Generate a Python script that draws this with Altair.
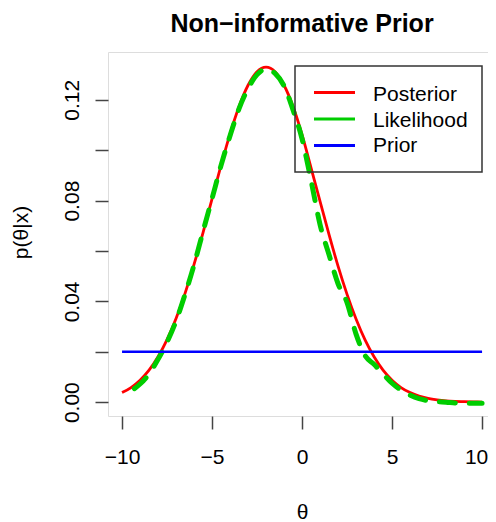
import altair as alt
import pandas as pd

# ---- data ----
theta = [-10.0, -9.5, -9.0, -8.5, -8.0, -7.5, -7.0, -6.5, -6.0, -5.5,
         -5.0, -4.5, -4.0, -3.5, -3.0, -2.5, -2.0, -1.5, -1.0, -0.5,
         0.0, 0.5, 1.0, 1.5, 2.0, 2.5, 3.0, 3.5, 4.0, 4.5,
         5.0, 5.5, 6.0, 6.5, 7.0, 7.5, 8.0, 8.5, 9.0, 9.5, 10.0]

posterior = [0.0038, 0.0058, 0.0087, 0.0127, 0.0180, 0.0248, 0.0332, 0.0432, 0.0547, 0.0673,
             0.0807, 0.0940, 0.1065, 0.1174, 0.1258, 0.1312, 0.1330, 0.1312, 0.1258, 0.1174,
             0.1062, 0.0930, 0.0797, 0.0665, 0.0540, 0.0428, 0.0330, 0.0247, 0.0180, 0.0127,
             0.0087, 0.0058, 0.0038, 0.0024, 0.0015, 0.0009, 0.0005, 0.0003, 0.0002, 0.0001, 0.0000]

likelihood = [0.0028, 0.0045, 0.0072, 0.0112, 0.0170, 0.0238, 0.0322, 0.0428, 0.0545, 0.0678,
              0.0808, 0.0940, 0.1058, 0.1165, 0.1245, 0.1300, 0.1322, 0.1305, 0.1255, 0.1160,
              0.1045, 0.0880, 0.0705, 0.0585, 0.0470, 0.0395, 0.0270, 0.0185, 0.0150, 0.0112,
              0.0075, 0.0048, 0.0028, 0.0014, 0.0006, 0.0002, 0.0000, -0.0003, -0.0004, -0.0004, -0.0004]

prior_theta = [-10.0, 10.0]
prior = [0.02, 0.02]

series_names = ["Posterior", "Likelihood", "Prior"]
series_colors = ["#FF0000", "#00CD00", "#0000FF"]

y_ticks = [0.00, 0.02, 0.04, 0.06, 0.08, 0.10, 0.12]
x_ticks = [-10, -5, 0, 5, 10]

FONT = "Liberation Sans"

post_df = pd.DataFrame({"theta": theta, "p": posterior})
lik_df = pd.DataFrame({"theta": theta, "p": likelihood})
prior_df = pd.DataFrame({"theta": prior_theta, "p": prior})

xscale = alt.Scale(domain=[-10.78, 10.33], nice=False, zero=False)
yscale = alt.Scale(domain=[-0.0055, 0.139], nice=False, zero=False)

xaxis = alt.Axis(values=x_ticks, title="θ", grid=False, domain=False,
                 tickSize=13, tickColor="#444444", tickWidth=1.5,
                 labelFont=FONT, labelFontSize=21, labelColor="black",
                 labelBaseline="alphabetic", labelPadding=34, labelFlush=False,
                 labelOffset={"condition": {"test": "datum.value == 10", "value": -6},
                              "value": 0},
                 titleFont=FONT, titleFontSize=21, titleFontWeight="normal",
                 titleColor="black", titleBaseline="alphabetic", titleY=102,
                 titleX=194)
yaxis = alt.Axis(values=y_ticks, title="p(θ|x)", grid=False, domain=False,
                 tickSize=13, tickColor="#444444", tickWidth=1.5,
                 labelFont=FONT, labelFontSize=21, labelColor="black",
                 labelAngle=270, labelAlign="center", labelBaseline="alphabetic",
                 labelPadding=17, labelFlush=False,
                 labelExpr="round(datum.value*100) % 4 == 0 ? format(datum.value, '.2f') : ''",
                 titleFont=FONT, titleFontSize=21, titleFontWeight="normal",
                 titleColor="black", titleAngle=270, titleAlign="center",
                 titleBaseline="alphabetic", titleX=-81, titleY=180)

post = alt.Chart(post_df).mark_line(color=series_colors[0], strokeWidth=2.8,
                                    interpolate="monotone").encode(
    x=alt.X("theta:Q", scale=xscale, axis=xaxis),
    y=alt.Y("p:Q", scale=yscale, axis=yaxis),
)
lik = alt.Chart(lik_df).mark_line(color=series_colors[1], strokeWidth=5,
                                  strokeDash=[16, 14], strokeDashOffset=16,
                                  strokeCap="round", interpolate="monotone").encode(
    x=alt.X("theta:Q", scale=xscale),
    y=alt.Y("p:Q", scale=yscale),
)
pri = alt.Chart(prior_df).mark_line(color=series_colors[2], strokeWidth=2.6).encode(
    x=alt.X("theta:Q", scale=xscale),
    y=alt.Y("p:Q", scale=yscale),
)

# legend (manual, R style box)
leg_box = alt.Chart(pd.DataFrame({"a": [0]})).mark_rect(
    fill=None, stroke="#333333", strokeWidth=1.5).encode(
    x=alt.value(187), x2=alt.value(374), y=alt.value(14), y2=alt.value(120))

legend_line_y = [40.5, 67, 93.5]
legend_text_y = [48.7, 74.7, 99.7]
legend_layers = []
for name, col, ly, ty in zip(series_names, series_colors, legend_line_y, legend_text_y):
    legend_layers.append(
        alt.Chart(pd.DataFrame({"a": [0]})).mark_rule(color=col, strokeWidth=2.8).encode(
            x=alt.value(206), x2=alt.value(247), y=alt.value(ly)))
    legend_layers.append(
        alt.Chart(pd.DataFrame({"a": [0]})).mark_text(
            align="left", baseline="alphabetic", font=FONT, fontSize=21, color="black").encode(
            x=alt.value(265), y=alt.value(ty), text=alt.value(name)))

chart = alt.layer(post, lik, pri, leg_box, *legend_layers).properties(
    width=380, height=364,
    title=alt.TitleParams("Non−informative Prior", font=FONT, fontSize=25,
                          fontWeight="bold", color="black", anchor="middle",
                          baseline="alphabetic", offset=-5, dx=4),
    padding={"left": 100, "top": 44, "right": 0, "bottom": 106},
    autosize=alt.AutoSizeParams(type="none"),
).configure_view(stroke="#444444", strokeWidth=1.5).configure(background="white")

chart.save("out.html", embed_options={"renderer": "svg", "actions": False})
